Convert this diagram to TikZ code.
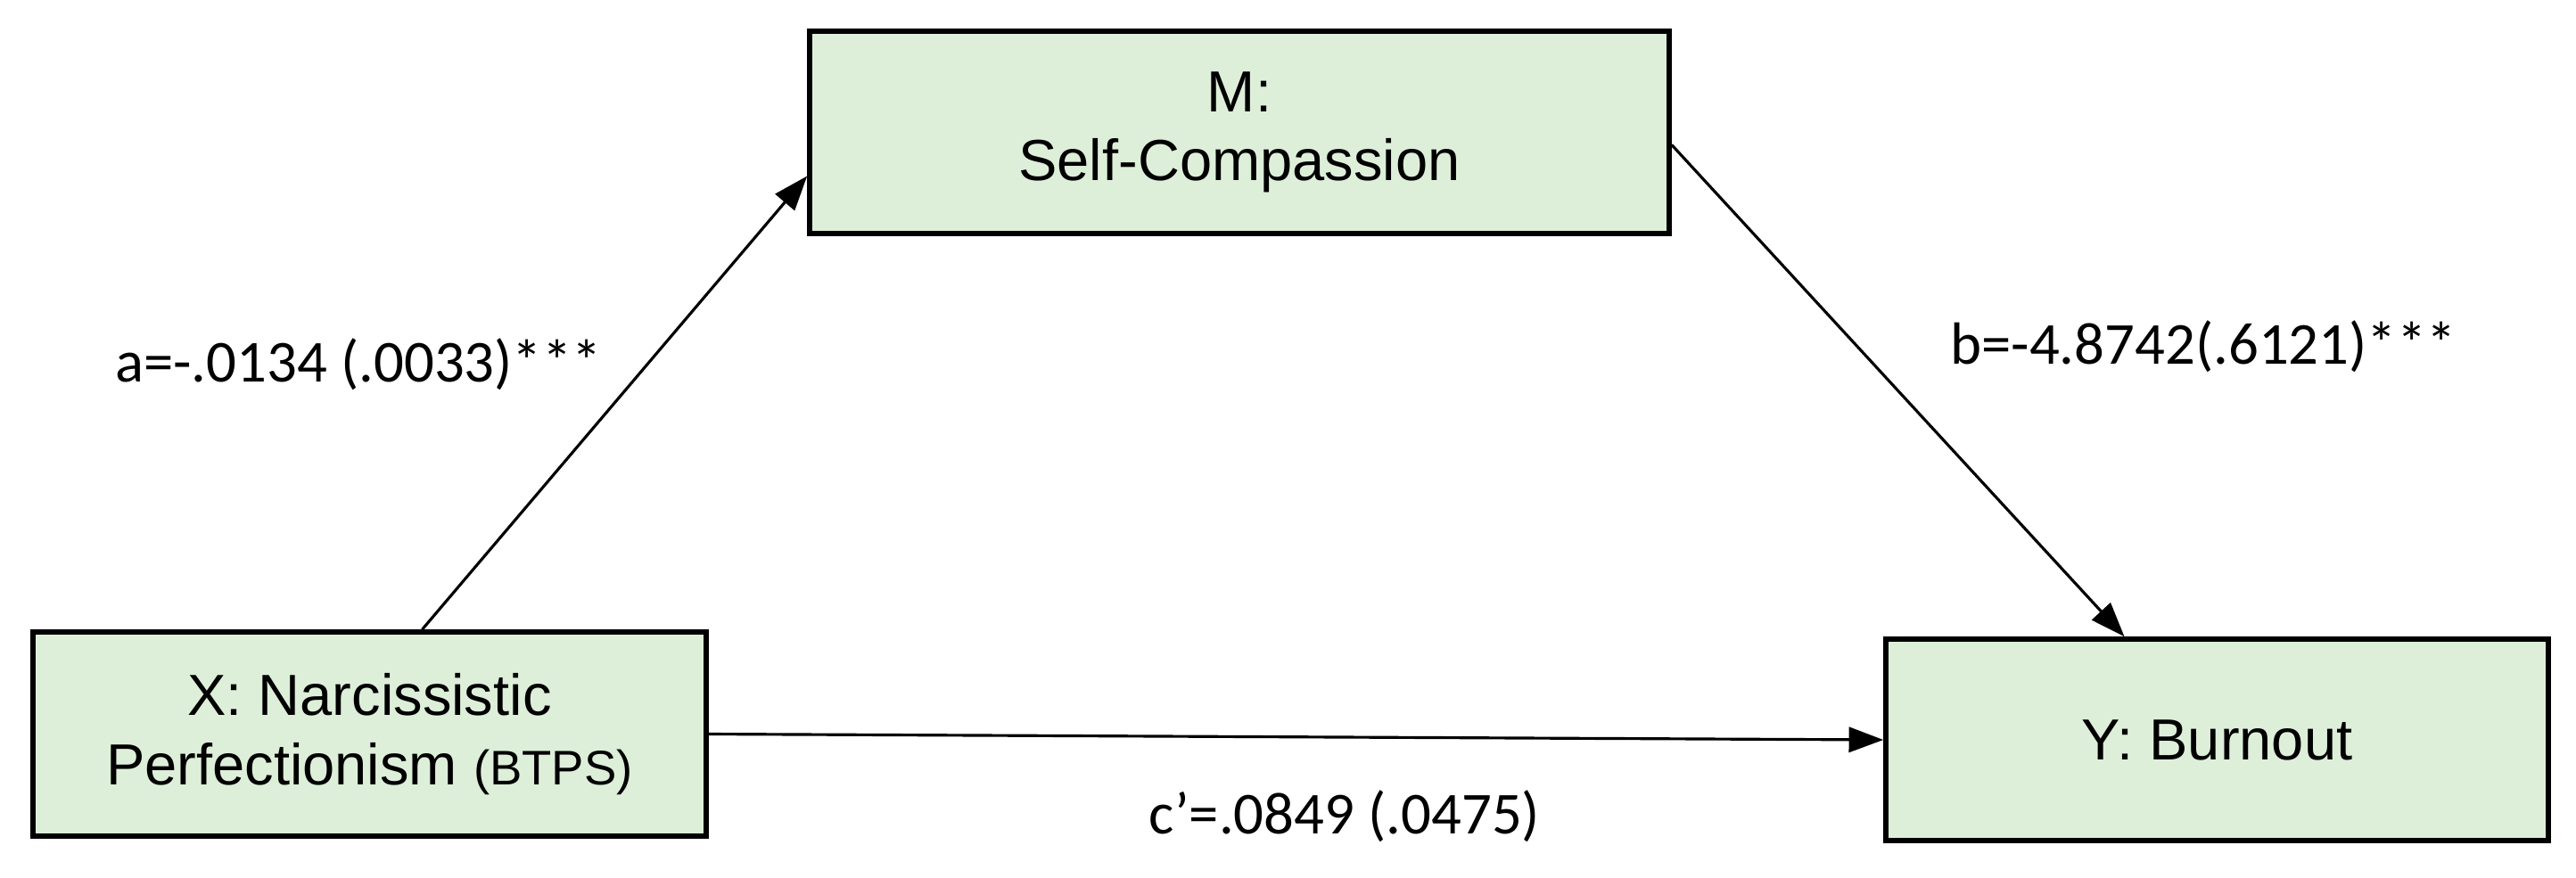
\documentclass[tikz,border=0pt]{standalone}
\usepackage{fontspec}
\setmainfont{Liberation Sans}
\newfontfamily\lblfont{Carlito}
\usetikzlibrary{arrows.meta,calc}
\definecolor{boxgreen}{RGB}{221,239,217}

\begin{document}
\begin{tikzpicture}[
	varbox/.style = {draw, line width=1.6pt, fill=boxgreen, align=center, inner sep=0pt, font=\fontsize{18.5}{22}\selectfont},
	effect/.style = {line width=0.9pt, -{Triangle[length=11pt,width=8pt]}},
	coef/.style = {font=\lblfont\fontsize{19}{22}\selectfont, inner sep=0pt},
]
	\useasboundingbox (0,0) rectangle (28.89,-9.84);

	\node[varbox, minimum width=9.64cm, minimum height=2.27cm] (M) at (13.90,-1.485) {M:\\Self-Compassion};
	\node[varbox, minimum width=7.55cm, minimum height=2.29cm] (X) at (4.145,-8.235) {X: Narcissistic\\Perfectionism {\fontsize{15.5}{22}\selectfont(BTPS)}};
	\node[varbox, minimum width=7.43cm, minimum height=2.26cm] (Y) at (24.865,-8.30) {Y: Burnout};

	\draw[effect] ($(X.north)+(0.59,0)$) -- ($(M.west)+(0,-0.49)$);
	\draw[effect] ($(M.east)+(0,-0.14)$) -- ($(Y.north)+(-1.04,0)$);
	\draw[effect] (X.east) -- (Y.west);

	\node[coef] (a) at (4.02,-4.09) {a=-.0134 (.0033)***};
	\node[coef] (b) at (24.71,-3.89) {b=-4.8742(.6121)***};
	\node[coef] (c) at (15.08,-9.16) {c’=.0849 (.0475)};
\end{tikzpicture}
\end{document}
